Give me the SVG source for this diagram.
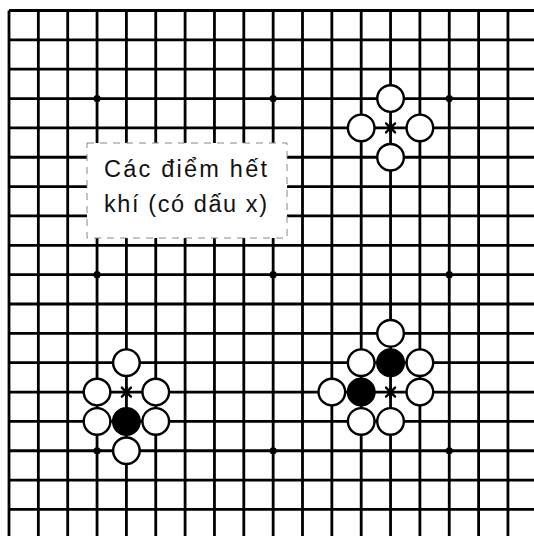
<svg xmlns="http://www.w3.org/2000/svg" width="534" height="536" viewBox="0 0 534 536">
<style>
.g line{stroke:#000;stroke-width:2.8}
.w{fill:#fff;stroke:#000;stroke-width:2.4}
.b{fill:#000;stroke:#000;stroke-width:2.4}
.x{stroke:#000;stroke-width:2.4;stroke-linecap:round}
.hs{fill:#000}
.t{font-family:"Liberation Sans","Noto Sans",Arial,sans-serif;font-size:23.5px;fill:#111}
</style>
<defs>
<circle id="ws" r="13.3" class="w"/>
<circle id="bs" r="13.3" class="b"/>
<g id="xm"><path class="x" d="M-4.5,-4.5L4.5,4.5M-4.5,4.5L4.5,-4.5M0,-5.5L0,5.5"/></g>
</defs>
<rect width="534" height="536" fill="#fff"/>
<g id="grid" class="g">
<line x1="9" y1="10.5" x2="534" y2="10.5"/>
<line x1="9" y1="39.85" x2="534" y2="39.85"/>
<line x1="9" y1="69.2" x2="534" y2="69.2"/>
<line x1="9" y1="98.55" x2="534" y2="98.55"/>
<line x1="9" y1="127.9" x2="534" y2="127.9"/>
<line x1="9" y1="157.25" x2="534" y2="157.25"/>
<line x1="9" y1="186.6" x2="534" y2="186.6"/>
<line x1="9" y1="215.95" x2="534" y2="215.95"/>
<line x1="9" y1="245.3" x2="534" y2="245.3"/>
<line x1="9" y1="274.65" x2="534" y2="274.65"/>
<line x1="9" y1="304" x2="534" y2="304"/>
<line x1="9" y1="333.35" x2="534" y2="333.35"/>
<line x1="9" y1="362.7" x2="534" y2="362.7"/>
<line x1="9" y1="392.05" x2="534" y2="392.05"/>
<line x1="9" y1="421.4" x2="534" y2="421.4"/>
<line x1="9" y1="450.75" x2="534" y2="450.75"/>
<line x1="9" y1="480.1" x2="534" y2="480.1"/>
<line x1="9" y1="509.45" x2="534" y2="509.45"/>
<line x1="9" y1="10.5" x2="9" y2="536"/>
<line x1="38.35" y1="10.5" x2="38.35" y2="536"/>
<line x1="67.7" y1="10.5" x2="67.7" y2="536"/>
<line x1="97.05" y1="10.5" x2="97.05" y2="536"/>
<line x1="126.4" y1="10.5" x2="126.4" y2="536"/>
<line x1="155.75" y1="10.5" x2="155.75" y2="536"/>
<line x1="185.1" y1="10.5" x2="185.1" y2="536"/>
<line x1="214.45" y1="10.5" x2="214.45" y2="536"/>
<line x1="243.8" y1="10.5" x2="243.8" y2="536"/>
<line x1="273.15" y1="10.5" x2="273.15" y2="536"/>
<line x1="302.5" y1="10.5" x2="302.5" y2="536"/>
<line x1="331.85" y1="10.5" x2="331.85" y2="536"/>
<line x1="361.2" y1="10.5" x2="361.2" y2="536"/>
<line x1="390.55" y1="10.5" x2="390.55" y2="536"/>
<line x1="419.9" y1="10.5" x2="419.9" y2="536"/>
<line x1="449.25" y1="10.5" x2="449.25" y2="536"/>
<line x1="478.6" y1="10.5" x2="478.6" y2="536"/>
<line x1="507.95" y1="10.5" x2="507.95" y2="536"/>
</g>
<g id="hoshi" class="hs">
<circle cx="97.05" cy="98.55" r="3.6"/>
<circle cx="273.15" cy="98.55" r="3.6"/>
<circle cx="449.25" cy="98.55" r="3.6"/>
<circle cx="97.05" cy="274.65" r="3.6"/>
<circle cx="273.15" cy="274.65" r="3.6"/>
<circle cx="449.25" cy="274.65" r="3.6"/>
<circle cx="97.05" cy="450.75" r="3.6"/>
<circle cx="273.15" cy="450.75" r="3.6"/>
<circle cx="449.25" cy="450.75" r="3.6"/>
</g>
<g id="label">
<rect x="87" y="143" width="200" height="95" fill="#fff" stroke="#888" stroke-width="1" stroke-dasharray="7 6"/>
<text class="t" x="104" y="177" textLength="163" lengthAdjust="spacing">Các điểm hết</text>
<text class="t" x="104" y="212" textLength="163" lengthAdjust="spacing">khí (có dấu x)</text>
</g>
<g id="group-top-right">
<use href="#ws" x="390.55" y="98.55"/>
<use href="#ws" x="361.2" y="127.9"/>
<use href="#ws" x="419.9" y="127.9"/>
<use href="#ws" x="390.55" y="157.25"/>
<use href="#xm" x="390.55" y="127.9"/>
</g>
<g id="group-bottom-left">
<use href="#ws" x="126.4" y="362.7"/>
<use href="#ws" x="97.05" y="392.05"/>
<use href="#ws" x="155.75" y="392.05"/>
<use href="#ws" x="97.05" y="421.4"/>
<use href="#ws" x="155.75" y="421.4"/>
<use href="#ws" x="126.4" y="450.75"/>
<use href="#bs" x="126.4" y="421.4"/>
<use href="#xm" x="126.4" y="392.05"/>
</g>
<g id="group-bottom-right">
<use href="#ws" x="390.55" y="333.35"/>
<use href="#ws" x="361.2" y="362.7"/>
<use href="#ws" x="419.9" y="362.7"/>
<use href="#ws" x="331.85" y="392.05"/>
<use href="#ws" x="419.9" y="392.05"/>
<use href="#ws" x="361.2" y="421.4"/>
<use href="#ws" x="390.55" y="421.4"/>
<use href="#bs" x="390.55" y="362.7"/>
<use href="#bs" x="361.2" y="392.05"/>
<use href="#xm" x="390.55" y="392.05"/>
</g>
</svg>
